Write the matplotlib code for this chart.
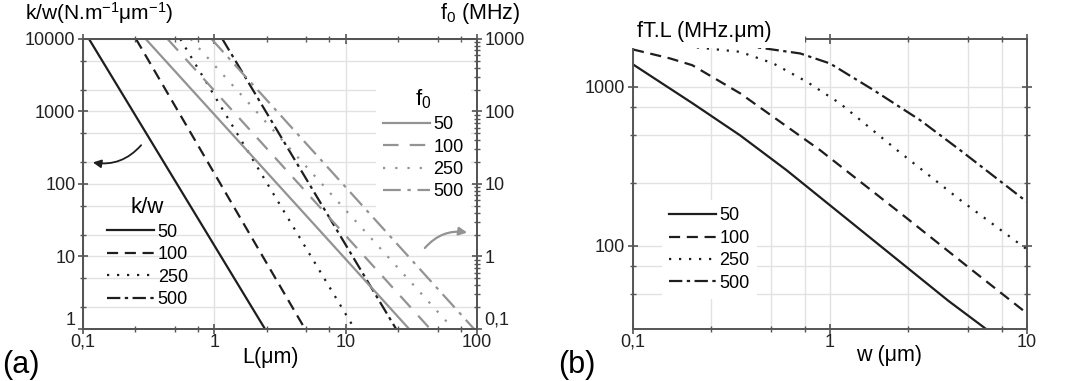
import matplotlib
matplotlib.use('Agg')
import matplotlib.pyplot as plt
from matplotlib.ticker import LogLocator, FuncFormatter, NullFormatter
from matplotlib.patches import Rectangle

plt.rcParams['font.family'] = ['Liberation Sans', 'DejaVu Sans']
plt.rcParams['mathtext.default'] = 'regular'

# panel (a): straight log-log lines, given by their two end points
kw_labels = ['50', '100', '250', '500']
kw_L = [[0.111, 2.43], [0.253, 4.9], [0.55, 11.7], [1.15, 24.2]]
kw_val = [10000, 1]
f0_labels = ['50', '100', '250', '500']
f0_L = [[0.30, 30.4], [0.44, 44], [0.66, 66], [0.95, 95]]
f0_val = [1000, 0.1]

# panel (b): fT.L versus w
w_50 = [0.1, 0.2, 0.35, 0.6, 1, 2, 4, 6.2]
ftl_50 = [1384, 790, 495, 300, 180, 90, 45, 30]
w_100 = [0.1, 0.154, 0.2, 0.35, 0.89, 2.41, 5, 10]
ftl_100 = [1718, 1510, 1368, 910, 400, 152, 74, 37.6]
w_250 = [0.211, 0.35, 0.516, 0.764, 1.127, 2.19, 4.59, 10]
ftl_250 = [1770, 1660, 1403, 1075, 785, 400, 194, 95]
w_500 = [0.35, 0.408, 0.706, 1.0, 1.667, 2.87, 4.59, 10]
ftl_500 = [1790, 1786, 1622, 1403, 953, 617, 399, 189]
b_labels = ['50', '100', '250', '500']

black_ls = ['-', (0, (5, 3)), (0, (1, 3.5)), (0, (6, 2, 1.5, 2))]
gray_ls = ['-', (0, (7, 5)), (0, (1, 4.5)), (0, (8, 3, 1.5, 3))]
black = '#1e1e1e'
gray = '#939393'
axcol = '#555555'
gridcol = '#e2e2e2'


def comma(v, pos):
    return ('%g' % v).replace('.', ',')


def style_axis(ax):
    for s in ax.spines.values():
        s.set_color(axcol)
        s.set_linewidth(1.4)
    ax.tick_params(which='both', direction='inout', colors=axcol, labelcolor='#222222',
                   labelsize=13)
    ax.tick_params(which='major', length=7, width=1.2)
    ax.tick_params(which='minor', length=4, width=1.0)


def raise_bottom_label(axis):
    # the lowest y label sits just above its tick, as in the original
    labels = axis.get_majorticklabels()
    locs = axis.get_majorticklocs()
    lo = axis.axes.get_ylim()[0]
    for lab, v in zip(labels, locs):
        if abs(v - lo) < 1e-9:
            lab.set_va('bottom')


fig = plt.figure(figsize=(10.8, 3.81), dpi=100)

# ---------------- panel (a)
ax1 = fig.add_axes([0.0769, 0.1365, 0.3648, 0.7612])
ax1.set_xscale('log')
ax1.set_yscale('log')
ax1.set_xlim(0.1, 100)
ax1.set_ylim(1, 10000)
for i in range(4):
    ax1.plot(kw_L[i], kw_val, color=black, lw=1.6, ls=black_ls[i], label=kw_labels[i])
ax1.xaxis.set_minor_locator(LogLocator(base=10, subs=(2.5, 5, 7.5)))
ax1.yaxis.set_minor_locator(LogLocator(base=10, subs=(2, 5)))
ax1.xaxis.set_major_formatter(FuncFormatter(comma))
ax1.xaxis.set_minor_formatter(NullFormatter())
ax1.yaxis.set_major_formatter(FuncFormatter(comma))
ax1.yaxis.set_minor_formatter(NullFormatter())
ax1.grid(True, which='major', color=gridcol, lw=1.0)
ax1.grid(True, which='minor', axis='y', color=gridcol, lw=1.0)
ax1.set_axisbelow(True)
ax1.tick_params(top=True, which='both')
style_axis(ax1)
ax1.tick_params(axis='x', pad=0)
ax1.tick_params(axis='y', pad=2)

ax1b = ax1.twinx()
ax1b.set_yscale('log')
ax1b.set_ylim(0.1, 1000)
for i in range(4):
    ax1b.plot(f0_L[i], f0_val, color=gray, lw=1.6, ls=gray_ls[i], label=f0_labels[i])
ax1b.yaxis.set_major_formatter(FuncFormatter(comma))
ax1b.yaxis.set_minor_formatter(NullFormatter())
ax1b.yaxis.set_minor_locator(LogLocator(base=10, subs=range(2, 10)))
style_axis(ax1b)
ax1b.tick_params(axis='y', pad=2)

leg1 = ax1.legend(title='k/w', loc='upper left', bbox_to_anchor=(0.02, 0.51),
                  fontsize=13, title_fontsize=16, frameon=False,
                  handlelength=2.6, handletextpad=0.2, labelspacing=0.3)
leg2 = ax1b.legend(title='f$_0$', loc='upper left', bbox_to_anchor=(0.72, 0.89),
                   fontsize=13, title_fontsize=16, frameon=True, facecolor='white',
                   edgecolor='none', framealpha=1, fancybox=False,
                   handlelength=2.6, handletextpad=0.2, labelspacing=0.3)

ax1.annotate('', xy=(0.018, 0.576), xytext=(0.152, 0.641), xycoords='axes fraction',
             arrowprops=dict(arrowstyle='-|>', color=black, lw=1.3,
                             connectionstyle='arc3,rad=-0.3', mutation_scale=12))
ax1.annotate('', xy=(0.982, 0.331), xytext=(0.863, 0.272), xycoords='axes fraction',
             arrowprops=dict(arrowstyle='-|>', color=gray, lw=1.6,
                             connectionstyle='arc3,rad=-0.3', mutation_scale=12))

fig.text(25 / 1080, 1 - 13 / 381, 'k/w(N.m$^{-1}$μm$^{-1}$)', fontsize=15,
         va='center', ha='left')
fig.text(520 / 1080, 1 - 14 / 381, 'f$_0$ (MHz)', fontsize=15.5, va='center', ha='right')
fig.text(270 / 1080, 1 - 357 / 381, 'L(μm)', fontsize=15.5, va='center', ha='center')
fig.text(2 / 1080, 1 - 365 / 381, '(a)', fontsize=22, va='center', ha='left')

# ---------------- panel (b)
ax2 = fig.add_axes([0.5861, 0.1365, 0.3648, 0.7612])
ax2.set_xscale('log')
ax2.set_yscale('log')
ax2.set_xlim(0.1, 10)
ax2.set_ylim(30, 2000)
series = [(w_50, ftl_50), (w_100, ftl_100), (w_250, ftl_250), (w_500, ftl_500)]
for i, (xs, ys) in enumerate(series):
    ax2.plot(xs, ys, color=black, lw=1.6, ls=black_ls[i], label=b_labels[i])
ax2.xaxis.set_minor_locator(LogLocator(base=10, subs=(2.5, 5, 7.5)))
ax2.yaxis.set_minor_locator(LogLocator(base=10, subs=(2.5, 5, 7.5)))
ax2.xaxis.set_major_formatter(FuncFormatter(comma))
ax2.xaxis.set_minor_formatter(NullFormatter())
ax2.yaxis.set_major_formatter(FuncFormatter(comma))
ax2.yaxis.set_minor_formatter(NullFormatter())
ax2.grid(True, which='both', color=gridcol, lw=1.0)
ax2.set_axisbelow(True)
ax2.tick_params(top=True, right=True, which='both')
style_axis(ax2)
ax2.tick_params(axis='x', pad=0)
ax2.tick_params(axis='y', pad=2)

ax2.legend(loc='upper left', bbox_to_anchor=(0.05, 0.475), fontsize=13,
           frameon=True, facecolor='white', edgecolor='none', framealpha=1,
           fancybox=False, handlelength=2.6, handletextpad=0.2, labelspacing=0.3)

# white box behind the panel title that hides the top-left of the frame
ax2.add_patch(Rectangle((-0.05, 0.969), 0.487, 0.2, transform=ax2.transAxes,
                        facecolor='white', edgecolor='none', zorder=5, clip_on=False))
fig.text(637 / 1080, 1 - 31 / 381, 'fT.L (MHz.μm)', fontsize=15.5, va='center',
         ha='left', zorder=6)
fig.text(889 / 1080, 1 - 355 / 381, 'w (μm)', fontsize=15.5, va='center', ha='center')
fig.text(558 / 1080, 1 - 365 / 381, '(b)', fontsize=22, va='center', ha='left')

fig.canvas.draw()
raise_bottom_label(ax1.yaxis)
raise_bottom_label(ax1b.yaxis)

fig.savefig('out.png', dpi=100)
